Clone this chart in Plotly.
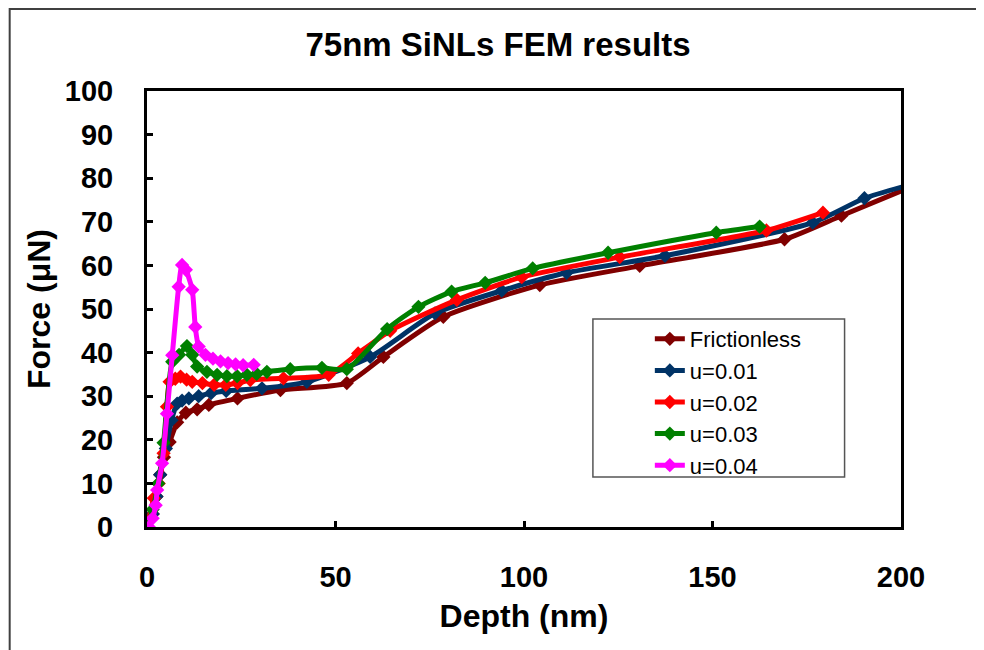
import plotly.graph_objects as go

# ---- data ----
fric_x = [0, 1.5, 2.5, 3.5, 4.5, 6.0, 8.0, 10.3, 13.3, 16.4, 24.0, 35.4, 53.0, 62.7, 78.6, 104.2, 130.7, 169.1, 184.2, 202.0]
fric_y = [0, 3, 7, 12, 16, 19.5, 24, 26.2, 27, 28, 29.5, 31.4, 33, 39, 48.2, 55.5, 59.9, 66, 71.4, 77.8]

u01_x = [0, 1.5, 2.5, 3.5, 5.0, 6.5, 8.0, 9.3, 11.1, 13.7, 17, 21, 30.5, 42.4, 59.2, 76.4, 94.1, 111.3, 137.4, 176.6, 190.3, 202]
u01_y = [0, 3, 7, 12, 18, 24.5, 28.3, 29, 29.5, 30, 30.7, 31.2, 31.8, 33.3, 39, 49, 54.2, 58.3, 62.2, 69.8, 75.4, 78.4]

u02_x = [0, 1.8, 3.1, 4.4, 5.3, 6.0, 7.5, 8.9, 10.5, 12.0, 14.7, 17.8, 20.9, 24.0, 27.4, 36.2, 48.2, 56.0, 64.5, 82.2, 99.4, 125.4, 164.3, 179.3]
u02_y = [0, 6.6, 10, 16.9, 27.6, 33.3, 34.0, 34.5, 33.8, 33.3, 33.0, 32.6, 32.6, 33.0, 33.7, 34.1, 34.9, 39.8, 45.0, 52.1, 57.3, 61.9, 68, 72.1]

u03_x = [0, 1.5, 3.0, 4.4, 6.7, 8.5, 10.6, 12.0, 13.3, 15.9, 18.6, 21.2, 23.9, 26.5, 29.1, 31.8, 38.0, 46.4, 53.0, 63.7, 72.0, 80.8, 89.7, 102.3, 122.3, 151.0, 162.5]
u03_y = [0, 4, 10, 19.3, 37.9, 39.5, 41.5, 39.5, 36.8, 35.6, 34.9, 34.6, 34.6, 34.9, 35.1, 35.6, 36.2, 36.5, 36.2, 45.4, 50.5, 54.0, 56.0, 59.3, 62.9, 67.5, 68.9]

u04_x = [0.5, 1.5, 2.3, 2.7, 4.0, 5.3, 6.7, 8.4, 9.3, 10.3, 12.0, 12.8, 13.7, 15.5, 17.5, 19.5, 21.5, 23.5, 25.5, 28.3]
u04_y = [0, 2, 5, 8.5, 14.6, 26, 39.4, 55.1, 60.1, 59.0, 54.4, 45.9, 41.4, 39.5, 38.6, 38.0, 37.6, 37.3, 37.1, 37.2]

names = ["Frictionless", "u=0.01", "u=0.02", "u=0.03", "u=0.04"]
colors = ["#800000", "#003366", "#FF0000", "#008000", "#FF00FF"]
series = [(fric_x, fric_y), (u01_x, u01_y), (u02_x, u02_y), (u03_x, u03_y), (u04_x, u04_y)]

x_ticks = [0, 50, 100, 150, 200]
y_ticks = [0, 10, 20, 30, 40, 50, 60, 70, 80, 90, 100]

FONT = "Arial, Liberation Sans, sans-serif"

fig = go.Figure()
for (xs, ys), nm, c in zip(series, names, colors):
    fig.add_trace(go.Scatter(
        x=xs, y=ys, name=nm, mode="lines+markers",
        line=dict(color=c, width=5, shape="spline", smoothing=0.6),
        marker=dict(symbol="diamond", size=11, color=c),
    ))

# page body has an 8px offset; figure coordinates below are screen - 8
OFF = 8
W, H = 984, 650
L, R, T, B = 146.5 - OFF, 901.5 - OFF, 91 - OFF, 527 - OFF
pw, ph = R - L, B - T

def px(xp):
    return (xp - OFF - L) / pw

def py(yp):
    return (B - (yp - OFF)) / ph

fig.update_layout(
    width=W, height=H,
    margin=dict(l=L, r=W - R, t=T, b=H - B, pad=0),
    paper_bgcolor="white", plot_bgcolor="white",
    font=dict(family=FONT, color="black"),
    title=dict(text="75nm SiNLs FEM results", x=(498 - OFF) / W, xanchor="center",
               y=1 - (44 - OFF) / H, yanchor="middle", yref="container",
               font=dict(size=33, weight="bold", family=FONT, color="black")),
    showlegend=True,
    legend=dict(x=px(650), y=py(318), xanchor="left", yanchor="top",
                bgcolor="rgba(0,0,0,0)", borderwidth=0,
                font=dict(size=22, family=FONT, color="black"),
                tracegroupgap=0),
    xaxis=dict(range=[0, 200], tickvals=x_ticks, ticks="inside", ticklen=6, tickwidth=3,
               tickcolor="black", showline=True, linecolor="black", linewidth=3, mirror=True,
               showgrid=False, zeroline=False, ticklabelstandoff=22,
               tickfont=dict(size=29, weight="bold", family=FONT),
               title=dict(text="Depth (nm)", standoff=13,
                          font=dict(size=32, weight="bold", family=FONT))),
    yaxis=dict(range=[0, 100], tickvals=y_ticks, ticks="inside", ticklen=6, tickwidth=3,
               tickcolor="black", showline=True, linecolor="black", linewidth=3, mirror=True,
               showgrid=False, zeroline=False, ticklabelstandoff=25,
               tickfont=dict(size=29, weight="bold", family=FONT),
               title=dict(text="Force (μN)", standoff=5,
                          font=dict(size=32, weight="bold", family=FONT))),
    shapes=[
        dict(type="rect", xref="paper", yref="paper",
             x0=(1 - L) / pw, x1=(W + 20 - L) / pw,
             y0=(B - (H + 20)) / ph, y1=(B - 1) / ph,
             line=dict(color="#404040", width=2), fillcolor="rgba(0,0,0,0)", layer="below"),
        dict(type="rect", xref="paper", yref="paper",
             x0=px(593), x1=px(845), y0=py(477), y1=py(319),
             line=dict(color="#555555", width=1.5), fillcolor="white", layer="below"),
    ],
)

fig.write_html("out.html")
